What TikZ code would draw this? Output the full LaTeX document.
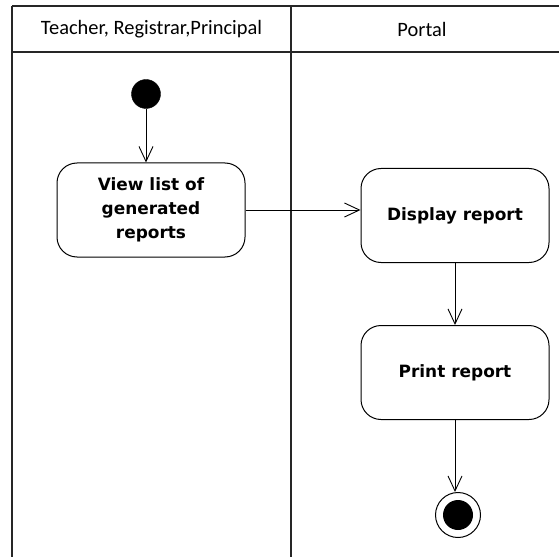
\documentclass[tikz,border=0pt]{standalone}
\usepackage{fontspec}
\setmainfont{Carlito}
\newfontfamily\actfont{DejaVu Sans}
\usetikzlibrary{arrows.meta}
\tikzset{
  lane/.style={line width=1.2bp, draw=black!85},
  act/.style={draw, line width=1bp, rounded corners=20bp, minimum width=188bp, minimum height=94bp,
    align=center, font=\actfont\bfseries\fontsize{17}{24}\selectfont, inner sep=2bp},
  flow/.style={line width=0.9bp, -{Straight Barb[length=15bp,width=14bp,line width=0.9bp]}},
  hdr/.style={font=\fontsize{20.5}{24}\selectfont}
}
\begin{document}
\begin{tikzpicture}[x=1bp,y=-1bp]
\useasboundingbox (0,0) rectangle (559,557);
% swimlanes
\draw[lane] (12,6) -- (559,6);
\draw[lane] (12,52) -- (559,52);
\draw[lane] (12,6) -- (12,557);
\draw[lane] (291,6) -- (291,557);
\node[hdr] (h1) at (151.5,29) {Teacher, Registrar,Principal};
\node[hdr] (h2) at (422,29) {Portal};
% nodes
\node[circle, fill=black, draw, minimum size=29bp, inner sep=0] (start) at (146,94) {};
\node[act] (view) at (151,210) {View list of\\generated\\reports};
\node[act] (disp) at (455,215.5) {Display report};
\node[act] (print) at (455,372.5) {Print report};
\node[circle, draw, line width=1bp, minimum size=45bp, inner sep=0] (end) at (458,515) {};
\node[circle, fill=black, minimum size=30bp, inner sep=0] (endin) at (end.center) {};
% flows
\draw[flow] (start) -- (start |- view.north);
\draw[flow] (view.east |- 0,210) -- (disp.west |- 0,210);
\draw[flow] (disp) -- (print);
\draw[flow] (print.south) -- (print.south |- end.north);
\end{tikzpicture}
\end{document}
